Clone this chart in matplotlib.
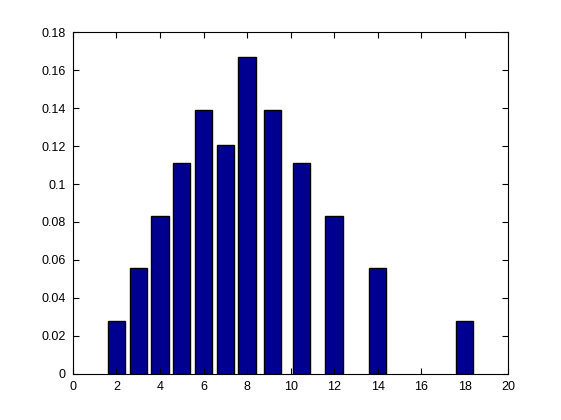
import matplotlib
matplotlib.use("Agg")
import matplotlib.pyplot as plt  # type: ignore

# bar positions and heights
x_vals = [2, 3, 4, 5, 6, 7, 8, 9.17, 10.5, 12, 14, 18]
heights = [0.0278, 0.0556, 0.0833, 0.1111, 0.1389, 0.1205, 0.1667,
           0.1389, 0.1111, 0.0833, 0.0556, 0.0278]
x_ticks = [0, 2, 4, 6, 8, 10, 12, 14, 16, 18, 20]
y_ticks = [0, 0.02, 0.04, 0.06, 0.08, 0.1, 0.12, 0.14, 0.16, 0.18]
y_labels = ["0", "0.02", "0.04", "0.06", "0.08", "0.1", "0.12", "0.14", "0.16", "0.18"]

plt.rcParams["font.family"] = ["Liberation Sans", "DejaVu Sans"]

fig = plt.figure(figsize=(5.61, 4.2), dpi=100)
ax = fig.add_axes([0.13, 0.11, 0.776, 0.8133])

ax.bar(x_vals, heights, width=0.8, color="#000090", edgecolor="black",
       linewidth=1.0)

ax.set_xlim(0, 20)
ax.set_ylim(0, 0.18)
ax.set_xticks(x_ticks)
ax.set_xticklabels([str(t) for t in x_ticks])
ax.set_yticks(y_ticks)
ax.set_yticklabels(y_labels)

ax.tick_params(direction="in", length=4, width=0.8, labelsize=9,
               top=True, right=True, pad=5, colors="black")
for side in ax.spines.values():
    side.set_linewidth(0.8)

fig.savefig("out.png", dpi=100)
